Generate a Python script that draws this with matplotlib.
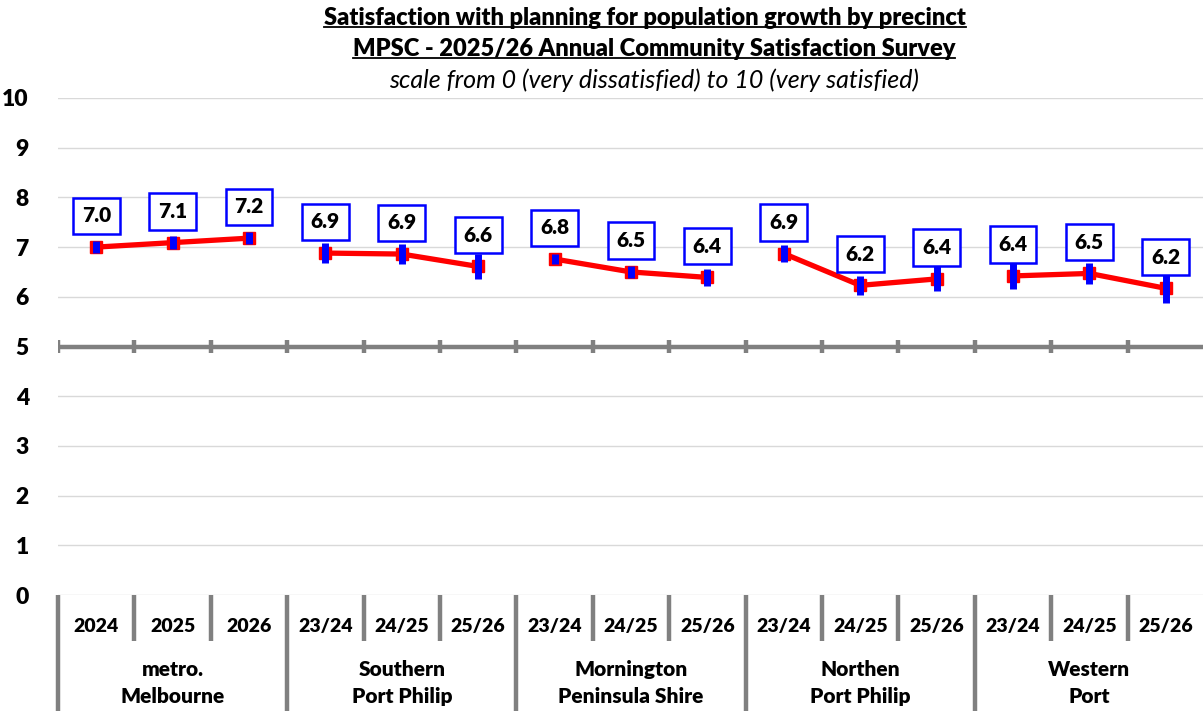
import matplotlib
matplotlib.use("Agg")
import matplotlib.pyplot as plt
import matplotlib.transforms as mtransforms

plt.rcParams["font.family"] = ["Lato", "DejaVu Sans"]
BOLD = "heavy"

# ---- data ----
groups = ["metro.\nMelbourne", "Southern\nPort Philip", "Mornington\nPeninsula Shire",
          "Northen\nPort Philip", "Western\nPort"]
periods = ["2024", "2025", "2026",
           "23/24", "24/25", "25/26",
           "23/24", "24/25", "25/26",
           "23/24", "24/25", "25/26",
           "23/24", "24/25", "25/26"]
means = [7.00, 7.09, 7.18,
         6.88, 6.86, 6.61,
         6.76, 6.50, 6.39,
         6.87, 6.23, 6.36,
         6.42, 6.47, 6.17]
labels = ["7.0", "7.1", "7.2",
          "6.9", "6.9", "6.6",
          "6.8", "6.5", "6.4",
          "6.9", "6.2", "6.4",
          "6.4", "6.5", "6.2"]
errs = [0.12, 0.13, 0.12,
        0.20, 0.21, 0.26,
        0.11, 0.12, 0.17,
        0.17, 0.19, 0.25,
        0.26, 0.21, 0.29]
group_size = 3

fig = plt.figure(figsize=(12.03, 7.11), dpi=100)
ax = fig.add_axes([58 / 1203, (711 - 595) / 711, (1204 - 58) / 1203, 497 / 711])

n = len(means)
xs = list(range(n))
ax.set_xlim(-0.5, n - 0.5)
ax.set_ylim(0, 10)

# gridlines
for yv in range(0, 11):
    if yv != 5:
        ax.axhline(yv, color="#d9d9d9", lw=1.0, zorder=0)
# mid axis at 5 with tick marks
ax.axhline(5, color="#808080", lw=3.2, zorder=1)
ax.vlines([b - 0.5 for b in range(n + 1)], 4.87, 5.13, color="#808080", lw=3.2, zorder=1)

# lines per group, markers, error bars
for g in range(len(groups)):
    sl = slice(g * group_size, (g + 1) * group_size)
    ax.plot(xs[sl], means[sl], color="#ff0000", lw=3.8, marker="s", ms=8,
            mfc="#ff0000", mec="#ff0000", zorder=3, solid_capstyle="butt")
ax.vlines(xs, [m - e for m, e in zip(means, errs)], [m + e for m, e in zip(means, errs)],
          color="#0000ff", lw=5, zorder=4)

for x, m, t in zip(xs, means, labels):
    ax.annotate(t, (x, m), xytext=(0, 22.5), textcoords="offset points",
                ha="center", va="center", fontsize=15, fontweight=BOLD, zorder=5,
                bbox=dict(boxstyle="square,pad=0.42", fc="white", ec="#0000ff", lw=1.8))

# y axis
ax.set_yticks(range(0, 11))
ax.set_yticklabels([str(v) for v in range(0, 11)], fontsize=16.5, fontweight=BOLD)
ax.tick_params(axis="y", length=0, pad=21)
ax.set_xticks([])
for s in ax.spines.values():
    s.set_visible(False)

# multi-level category axis
trans = mtransforms.blended_transform_factory(ax.transData, ax.transAxes)
for b in range(n + 1):
    is_group = b % group_size == 0
    y0 = -0.235 if is_group else -0.093
    ax.plot([b - 0.5, b - 0.5], [0, y0], transform=trans, color="#808080",
            lw=3.2, clip_on=False, solid_capstyle="butt")
for x, p in zip(xs, periods):
    ax.text(x, -0.064, p, transform=trans, ha="center", va="center",
            fontsize=14, fontweight=BOLD)
for g, name in enumerate(groups):
    cx = g * group_size + (group_size - 1) / 2
    ax.text(cx, -0.178, name, transform=trans, ha="center", va="center",
            fontsize=15, fontweight=BOLD, linespacing=1.5)

# titles
fig.text(645 / 1203, 1 - 18 / 711, "Satisfaction with planning for population growth by precinct",
         ha="center", va="center", fontsize=17, fontweight=BOLD)
fig.text(654 / 1203, 1 - 49 / 711, "MPSC - 2025/26 Annual Community Satisfaction Survey",
         ha="center", va="center", fontsize=17, fontweight=BOLD)
fig.text(654 / 1203, 1 - 80 / 711, "scale from 0 (very dissatisfied) to 10 (very satisfied)",
         ha="center", va="center", fontsize=18, style="italic")

# underline the two bold title lines
fig.canvas.draw()
r = fig.canvas.get_renderer()
for t in fig.texts[:2]:
    bb = t.get_window_extent(r).transformed(fig.transFigure.inverted())
    fig.add_artist(plt.Line2D([bb.x0, bb.x1], [bb.y0 + 0.003, bb.y0 + 0.003],
                              transform=fig.transFigure, color="black", lw=1.3))

fig.savefig("out.png", dpi=100)
